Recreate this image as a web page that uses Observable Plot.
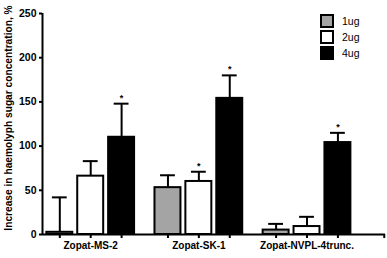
<!DOCTYPE html>
<html>
<head>
<meta charset="utf-8">
<script src="https://cdn.jsdelivr.net/npm/d3@7"></script>
<script src="https://cdn.jsdelivr.net/npm/@observablehq/plot@0.6"></script>
<style>
  body { margin: 0; background: white; font-family: "Liberation Sans", Arial, sans-serif; }
  #wrap { position: relative; width: 387px; height: 258px; }
  #legend { position: absolute; left: 320px; top: 13px; font-size: 10.5px; }
  .item { display: flex; align-items: center; height: 16px; }
  .sw { width: 10px; height: 10px; border: 2px solid black; margin-right: 8px; box-sizing: content-box; }
</style>
</head>
<body>
<div id="wrap"><div id="legend"></div></div>
<script>
const groups = ["Zopat-MS-2", "Zopat-SK-1", "Zopat-NVPL-4trunc."];
const doses = ["1ug", "2ug", "4ug"];
const doseColors = ["#a4a4a4", "white", "black"];
const means = [[2.5, 66, 110], [53, 60, 154], [5, 9, 104]];
const errorTops = [[42, 83, 148], [67, 71, 180], [12, 20, 115]];
const significant = [[false, false, true], [false, true, true], [false, false, true]];
const yTicks = [0, 50, 100, 150, 200, 250];
const yTitle = "Increase in haemolyph sugar concentration, %";

const groupStep = 3.5;
const data = [];
groups.forEach((g, gi) => doses.forEach((d, di) => {
  data.push({group: g, dose: d, pos: gi * groupStep + di, mean: means[gi][di], top: errorTops[gi][di], sig: significant[gi][di]});
}));
const groupCenters = groups.map((g, gi) => gi * groupStep + 1);
const tickPositions = data.map(d => d.pos).concat([groups.length * groupStep]);
const xDomain = [-0.56, 10.54];
const half = 0.42, capHalf = 0.24;

const font = "Liberation Sans, Arial, sans-serif";
const chart = Plot.plot({
  width: 387,
  height: 258,
  marginLeft: 42,
  marginRight: 2,
  marginTop: 13,
  marginBottom: 24,
  style: {fontFamily: font, background: "white"},
  x: {type: "linear", domain: xDomain},
  y: {domain: [0, 250]},
  color: {domain: doses, range: doseColors},
  marks: [
    Plot.ruleX(data, {x: "pos", y1: "mean", y2: "top", stroke: "black", strokeWidth: 2}),
    Plot.ruleY(data, {y: "top", x1: d => d.pos - capHalf, x2: d => d.pos + capHalf, stroke: "black", strokeWidth: 2}),
    Plot.rectY(data, {x1: d => d.pos - half, x2: d => d.pos + half, y1: 0, y2: "mean", fill: "dose", stroke: "black", strokeWidth: 2}),
    Plot.text(data.filter(d => d.sig), {x: "pos", y: "top", text: () => "*", dy: -6, fontSize: 9, fontWeight: "bold"}),
    Plot.ruleY([0], {stroke: "black", strokeWidth: 2}),
    Plot.ruleX([xDomain[0]], {y1: 0, y2: 250, stroke: "black", strokeWidth: 2}),
    Plot.axisY({ticks: yTicks, tickSize: 3, tickPadding: 3, strokeWidth: 2, fontSize: 10.5, fontWeight: "bold", label: null}),
    Plot.axisX({ticks: tickPositions, tickFormat: () => "", tickSize: 4, strokeWidth: 2, label: null}),
    Plot.axisX({ticks: groupCenters, tickFormat: (d, i) => groups[i], tickSize: 0, tickPadding: 7, fontSize: 10, fontWeight: "bold", label: null}),
    Plot.text([yTitle], {frameAnchor: "left", rotate: -90, textAnchor: "middle", dx: -34, dy: -6, fontSize: 10.2, fontWeight: "bold"})
  ]
});
document.getElementById("wrap").prepend(chart);

const legend = document.getElementById("legend");
doses.forEach((d, i) => {
  const item = document.createElement("div");
  item.className = "item";
  const sw = document.createElement("div");
  sw.className = "sw";
  sw.style.background = doseColors[i];
  const lab = document.createElement("span");
  lab.textContent = d;
  item.append(sw, lab);
  legend.append(item);
});
</script>
</body>
</html>
